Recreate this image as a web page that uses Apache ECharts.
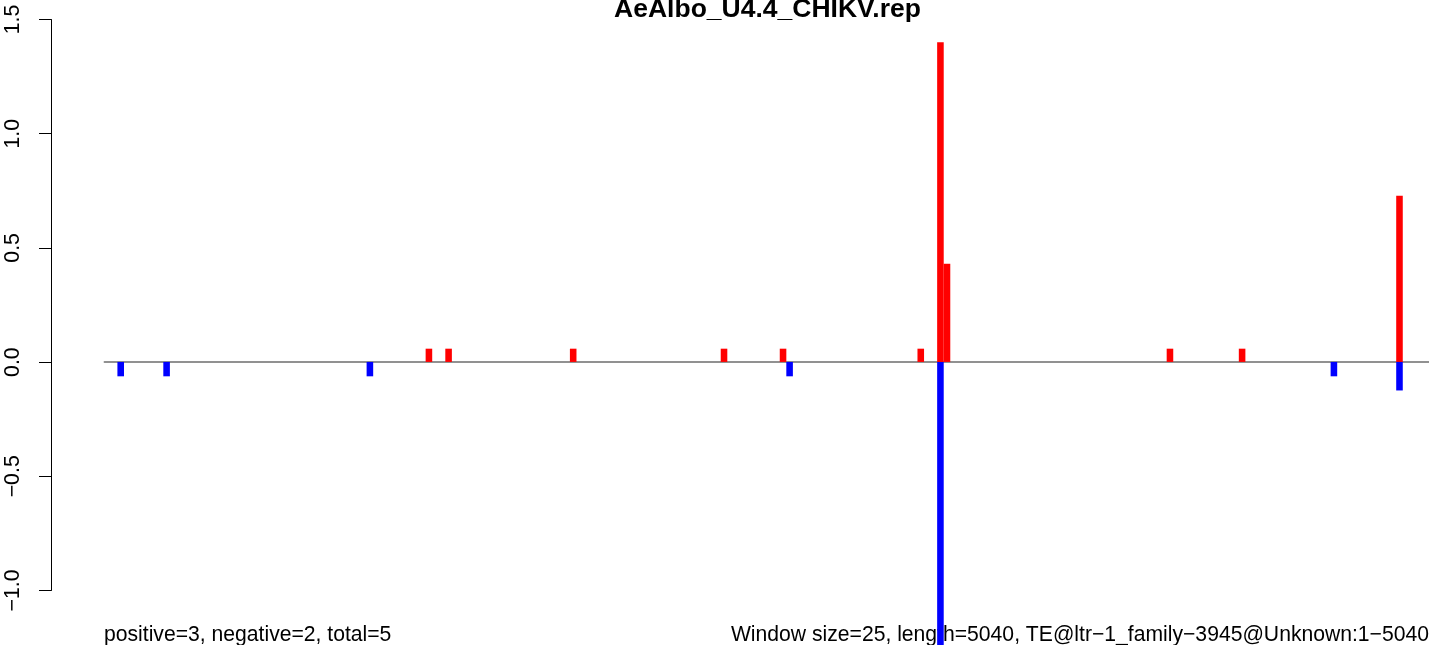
<!DOCTYPE html>
<html><head><meta charset="utf-8">
<script src="https://cdn.jsdelivr.net/npm/echarts@6/dist/echarts.min.js"></script>
<style>html,body{margin:0;padding:0;background:#fff}#c{width:1429px;height:645px}</style>
</head><body><div id="c"></div>
<script>
const titleText = 'AeAlbo_U4.4_CHIKV.rep';
const leftNote = 'positive=3, negative=2, total=5';
const rightNote = 'Window size=25, length=5040, TE@ltr\u22121_family\u22123945@Unknown:1\u22125040';
const windowSize = 25;
const seqLength = 5040;
const posBins = [49, 52, 71, 94, 103, 124, 127, 128, 162, 173, 197];
const posValues = [0.058, 0.058, 0.058, 0.058, 0.058, 0.058, 1.40, 0.43, 0.058, 0.058, 0.728];
const negBins = [2, 9, 40, 104, 127, 187, 197];
const negValues = [-0.063, -0.063, -0.063, -0.063, -1.40, -0.063, -0.125];
const yTickMin = -1.0, yTickMax = 1.5, yTickStep = 0.5;

const nBins = Math.ceil(seqLength / windowSize);
const categories = [];
for (let i = 0; i < nBins; i++) categories.push(String(i));
const posData = categories.map(() => null);
const negData = categories.map(() => null);
posBins.forEach((b, k) => { posData[b] = posValues[k]; });
negBins.forEach((b, k) => { negData[b] = negValues[k]; });

const pxPerUnit = 228.4;
const plotTop = 19.5;
const barMin = -1.24;
const binPx = 6.574;
const FONT = '"Liberation Sans", Arial, Helvetica, sans-serif';

const chart = echarts.init(document.getElementById('c'), null, {renderer: 'canvas'});
chart.setOption({
  animation: false,
  backgroundColor: '#ffffff',
  grid: [
    {left: 104.3, top: plotTop, width: nBins * binPx, height: (yTickMax - barMin) * pxPerUnit, containLabel: false},
    {left: 51, top: plotTop, width: 10, height: (yTickMax - yTickMin) * pxPerUnit, containLabel: false}
  ],
  xAxis: [
    {type: 'category', gridIndex: 0, data: categories, boundaryGap: true,
     axisLine: {show: true, onZero: true, lineStyle: {color: '#6e6e6e', width: 1.5}},
     axisTick: {show: false}, axisLabel: {show: false}, splitLine: {show: false}},
    {type: 'value', gridIndex: 1, show: false}
  ],
  yAxis: [
    {type: 'value', gridIndex: 0, min: barMin, max: yTickMax, show: false, splitLine: {show: false}},
    {type: 'value', gridIndex: 1, min: yTickMin, max: yTickMax, interval: yTickStep, position: 'left',
     axisLine: {show: true, lineStyle: {color: '#000', width: 1}},
     axisTick: {show: true, length: 12, lineStyle: {color: '#000', width: 1}},
     splitLine: {show: false},
     axisLabel: {show: true, rotate: 90, margin: 27, color: '#000', fontSize: 21.3, fontFamily: FONT,
       formatter: v => (v < 0 ? '\u2212' : '') + Math.abs(v).toFixed(1)}}
  ],
  series: [
    {type: 'bar', name: 'positive', xAxisIndex: 0, yAxisIndex: 0, data: posData,
     barWidth: binPx, barGap: '-100%', itemStyle: {color: '#ff0000'}, clip: true},
    {type: 'bar', name: 'negative', xAxisIndex: 0, yAxisIndex: 0, data: negData,
     barWidth: binPx, barGap: '-100%', itemStyle: {color: '#0000ff'}, clip: true}
  ],
  graphic: [
    {type: 'text', x: 767.5, y: 9.5, style: {text: titleText, font: 'bold 26.5px ' + FONT, fill: '#000', textAlign: 'center', textVerticalAlign: 'middle'}},
    {type: 'text', x: 104, y: 635.5, style: {text: leftNote, font: '21.15px ' + FONT, fill: '#000', textAlign: 'left', textVerticalAlign: 'middle'}},
    {type: 'text', x: 1429, y: 635.5, style: {text: rightNote, font: '21.15px ' + FONT, fill: '#000', textAlign: 'right', textVerticalAlign: 'middle'}}
  ]
});
</script></body></html>
